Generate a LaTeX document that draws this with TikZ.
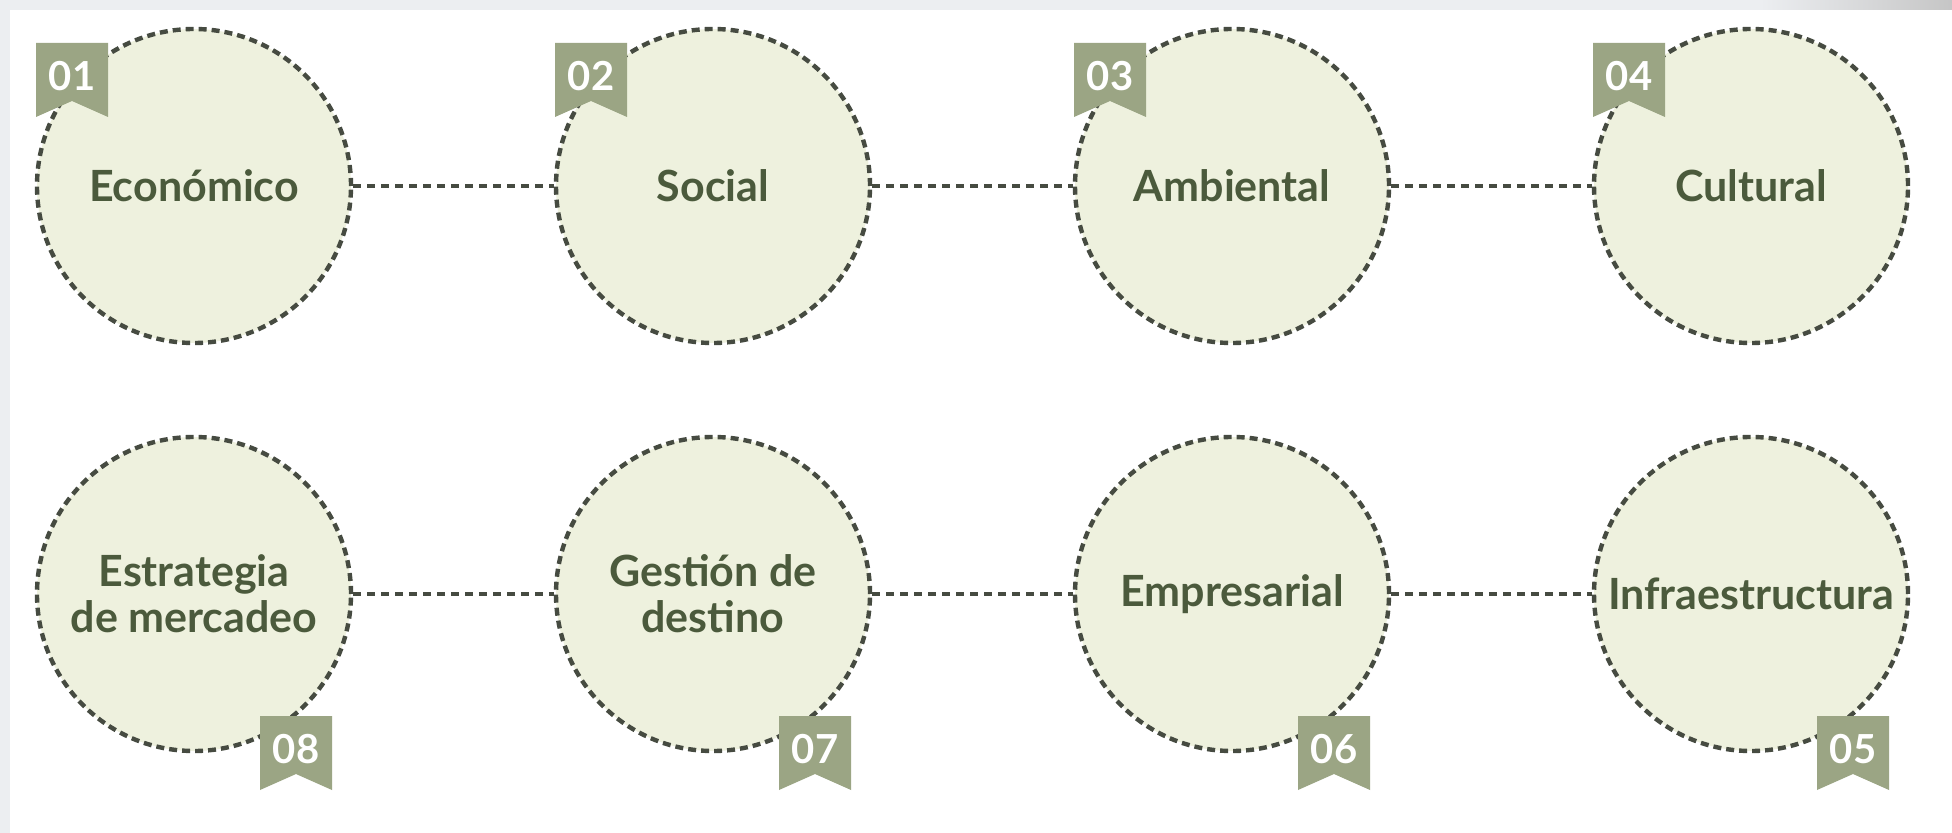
\documentclass[tikz,border=0pt]{standalone}
\usepackage{fontspec}
\setmainfont{Lato}
\usepackage{xcolor}

\definecolor{discfill}{HTML}{EEF1DE}
\definecolor{disctext}{HTML}{4B5A3C}
\definecolor{ribbon}{HTML}{9BA584}
\definecolor{dashgray}{HTML}{464B41}
\definecolor{framegray}{HTML}{ECEEF1}

\begin{document}
\begin{tikzpicture}[x=0.5pt, y=-0.5pt,
    disc/.style={circle, fill=discfill, draw=dashgray, line width=2.2pt,
      dash pattern=on 4pt off 2.5pt, minimum size=157pt, inner sep=0pt,
      align=center, text=disctext, font=\fontsize{21.5}{23}\selectfont\bfseries},
    link/.style={draw=dashgray, line width=1.8pt, dash pattern=on 4pt off 3pt},
    numtag/.style={text=white, inner sep=0pt, font=\fontsize{20}{20}\selectfont\bfseries}]

        % frame
        \fill[framegray] (0,0) rectangle (1952,833);
        \fill[white] (10,10) rectangle (1952,833);
        \shade[left color=framegray, right color=gray!45] (1760,0) rectangle (1952,10);

        % upper row
        \node[disc] (c1) at (194,186) {Económico};
        \node[disc] (c2) at (713,186) {Social};
        \node[disc] (c3) at (1232,186) {Ambiental};
        \node[disc] (c4) at (1751,186) {Cultural};

        % lower row
        \node[disc] (c8) at (194,594) {Estrategia\\de mercadeo};
        \node[disc] (c7) at (713,594) {Gestión de\\destino};
        \node[disc] (c6) at (1232,594) {Empresarial};
        \node[disc] (c5) at (1751,594) {Infraestructura};

        \draw[link] (c1) -- (c2);
        \draw[link] (c2) -- (c3);
        \draw[link] (c3) -- (c4);
        \draw[link] (c8) -- (c7);
        \draw[link] (c7) -- (c6);
        \draw[link] (c6) -- (c5);

        % number ribbons
        \foreach \n/\bx/\by in {01/36/43, 02/555/43, 03/1074/43, 04/1593/43,
                                08/260/716, 07/779/716, 06/1298/716, 05/1817/716} {
          \fill[ribbon] (\bx,\by) -- (\bx+72,\by) -- (\bx+72,\by+74)
            -- (\bx+36,\by+58) -- (\bx,\by+74) -- cycle;
          \node[numtag] (b\n) at (\bx+36,\by+33) {\n};
        }
      \end{tikzpicture}
\end{document}
